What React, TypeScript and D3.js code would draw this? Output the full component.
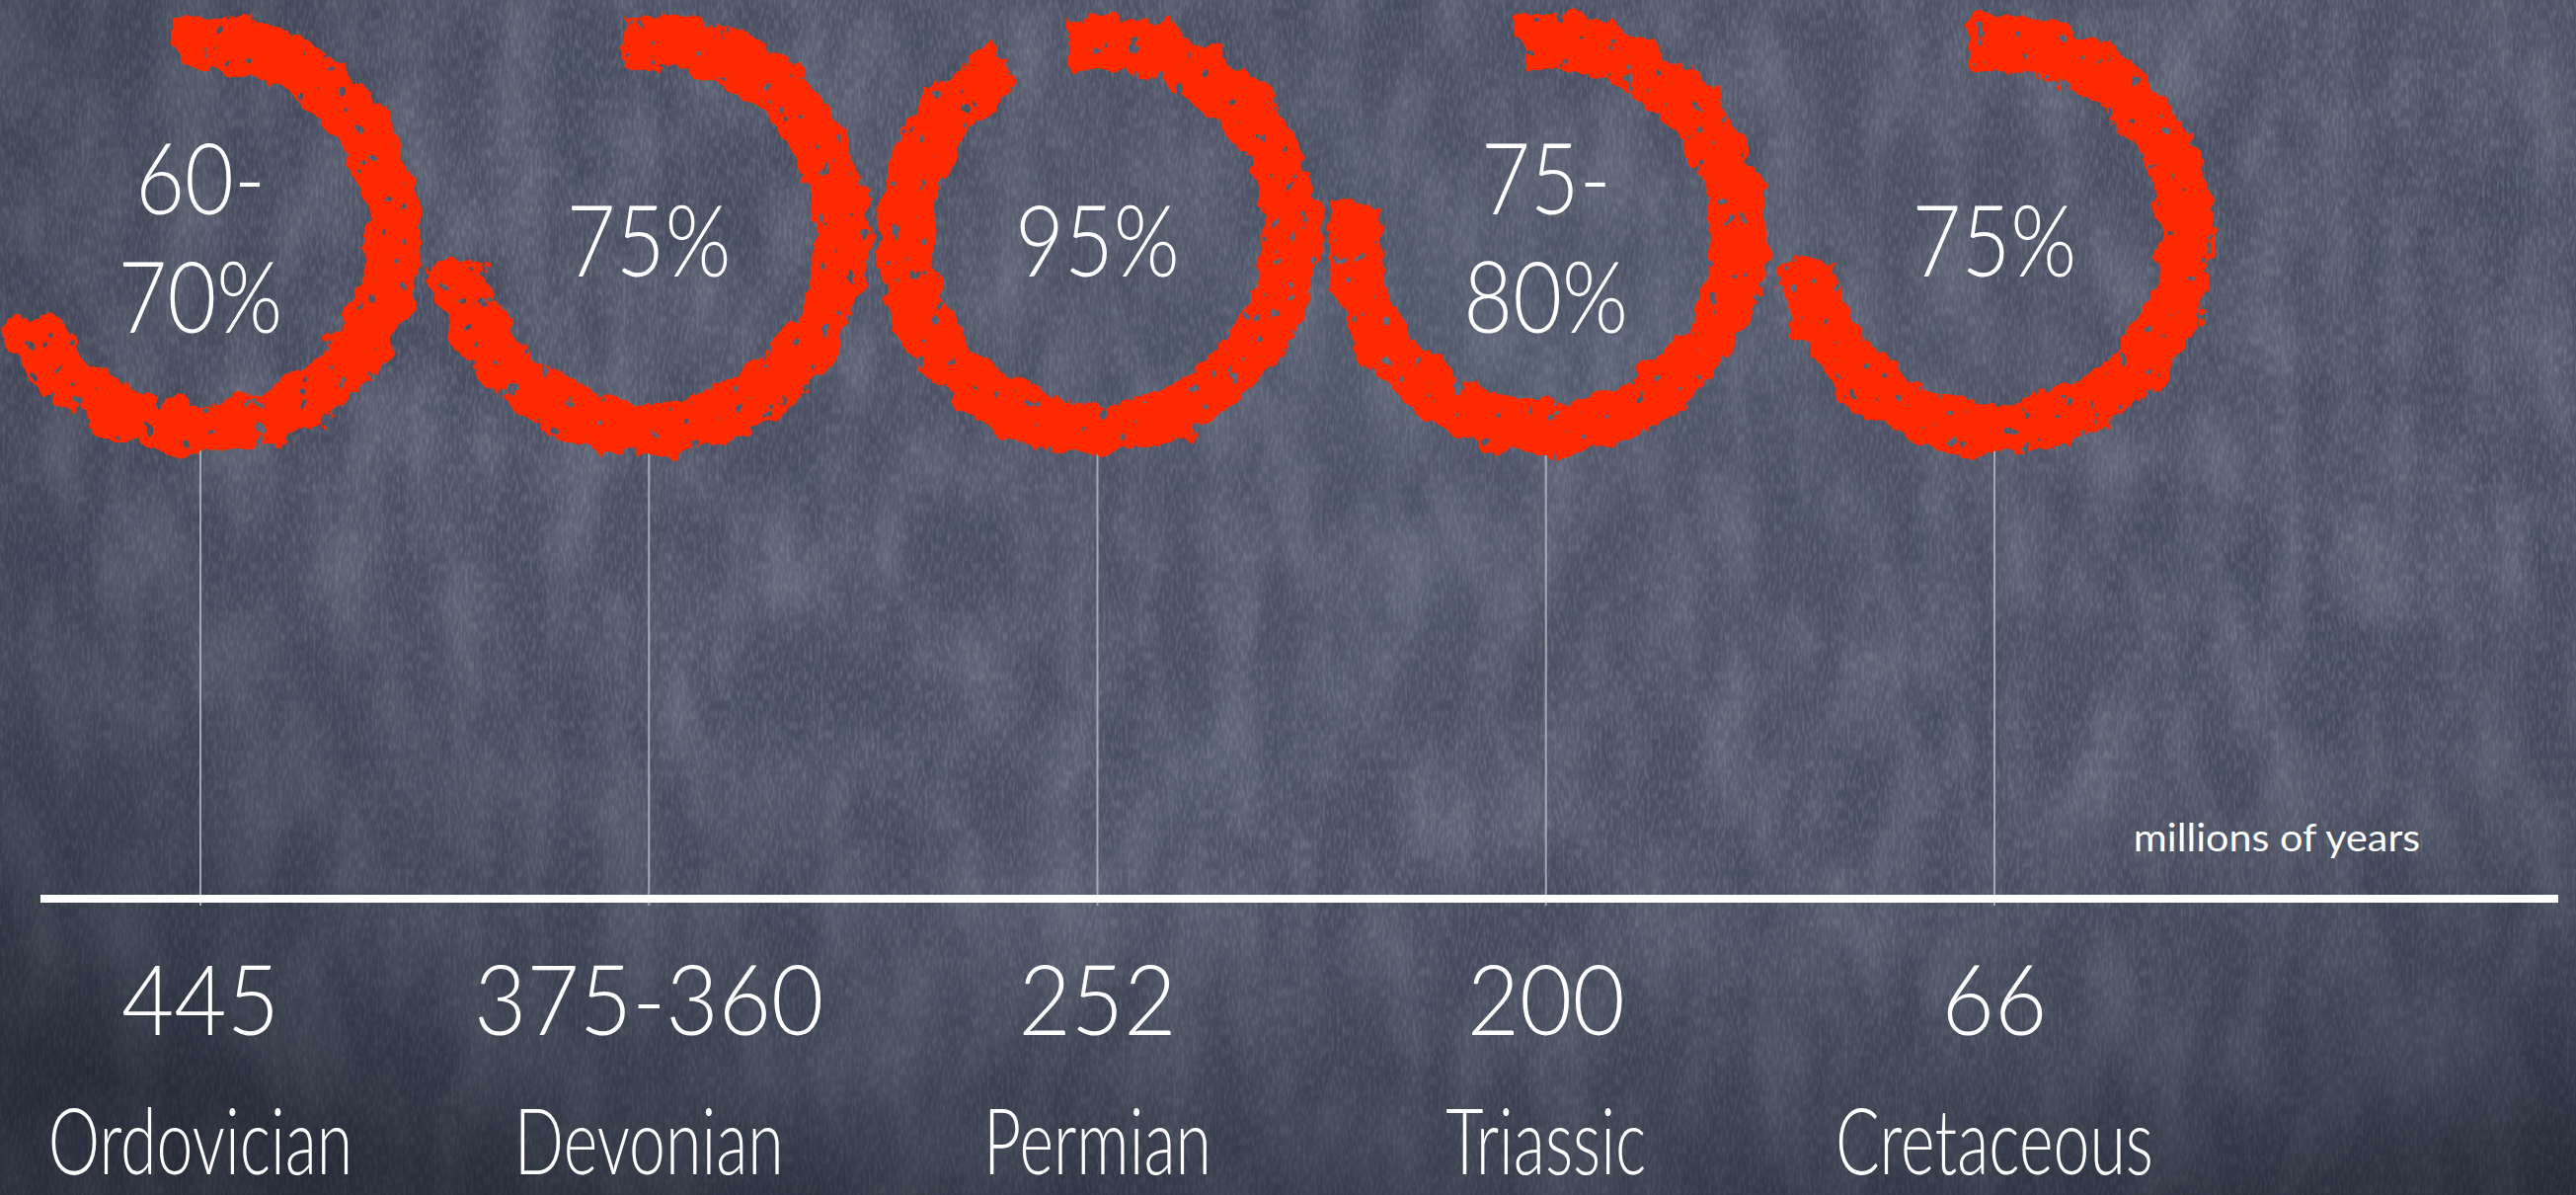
import React from "react";
import * as d3 from "d3";

// ---- data ----
const eras = ["Ordovician", "Devonian", "Permian", "Triassic", "Cretaceous"];
const datesMya = ["445", "375-360", "252", "200", "66"];
const lossLow = [60, 75, 95, 75, 75];
const lossHigh = [70, 75, 95, 80, 75];
const unitLabel = "millions of years";

const W = 2609;
const H = 1210;

export default function App() {
  const x = d3.scalePoint<string>().domain(eras).range([203, 2020]);
  const angle = d3.scaleLinear().domain([0, 100]).range([0, 2 * Math.PI * 0.97]);
  const ringY = 238;
  const rIn = 168;
  const rOut = 223;
  const axisY = 910;
  const arcGen = d3.arc<any>().innerRadius(rIn).outerRadius(rOut);
  const startA = -0.13;

  const roundFont = "Lato, 'Open Sans', 'DejaVu Sans', sans-serif";

  return (
    <svg
      width={W}
      height={H}
      viewBox={`0 0 ${W} ${H}`}
      style={{ position: "fixed", left: 0, top: 0, display: "block" }}
    >
      <defs>
        <radialGradient id="vig" cx="58%" cy="28%" r="82%">
          <stop offset="0" stopColor="#737a90" stopOpacity="0.28" />
          <stop offset="0.5" stopColor="#3a3f50" stopOpacity="0" />
          <stop offset="1" stopColor="#0c0f18" stopOpacity="0.55" />
        </radialGradient>
        <filter id="chalk" filterUnits="userSpaceOnUse" x="0" y="0" width={W} height={H}>
          <feTurbulence type="fractalNoise" baseFrequency="0.018 0.008" numOctaves="5" seed="4" />
          <feColorMatrix
            type="matrix"
            values="0 0 0 0 0.78  0 0 0 0 0.82  0 0 0 0 0.93  0.32 0 0 0 -0.11"
          />
        </filter>
        <filter id="blotch" filterUnits="userSpaceOnUse" x="0" y="0" width={W} height={H}>
          <feTurbulence type="fractalNoise" baseFrequency="0.004 0.006" numOctaves="3" seed="21" />
          <feColorMatrix
            type="matrix"
            values="0 0 0 0 0.05  0 0 0 0 0.06  0 0 0 0 0.1  -1.0 0 0 0 0.55"
          />
        </filter>
        <filter id="grain" filterUnits="userSpaceOnUse" x="0" y="0" width={W} height={H}>
          <feTurbulence type="fractalNoise" baseFrequency="0.35 0.1" numOctaves="2" seed="11" />
          <feColorMatrix
            type="matrix"
            values="0 0 0 0 0.85  0 0 0 0 0.88  0 0 0 0 0.95  0.35 0 0 0 -0.14"
          />
        </filter>
        <filter id="smear" x="-50%" y="-50%" width="200%" height="200%">
          <feGaussianBlur stdDeviation="40" />
        </filter>
        <filter id="rough" filterUnits="userSpaceOnUse" x="0" y="0" width={W} height={H}>
          <feTurbulence type="fractalNoise" baseFrequency="0.04" numOctaves="4" seed="2" result="n1" />
          <feDisplacementMap
            in="SourceGraphic"
            in2="n1"
            scale="26"
            xChannelSelector="R"
            yChannelSelector="G"
            result="d1"
          />
          <feTurbulence type="fractalNoise" baseFrequency="0.07" numOctaves="2" seed="9" result="n2" />
          <feColorMatrix
            in="n2"
            type="matrix"
            values="0 0 0 0 0  0 0 0 0 0  0 0 0 0 0  -30 0 0 0 22"
            result="holes"
          />
          <feComposite in="d1" in2="holes" operator="in" />
        </filter>
      </defs>

      {/* chalkboard background */}
      <rect x={0} y={0} width={W} height={H} fill="#4a5062" />
      <rect x={0} y={0} width={W} height={H} filter="url(#blotch)" />
      <rect x={0} y={0} width={W} height={H} filter="url(#chalk)" />
      <rect x={0} y={0} width={W} height={H} filter="url(#grain)" />
      <ellipse
        cx={1150}
        cy={850}
        rx={520}
        ry={60}
        transform="rotate(-38 1150 850)"
        fill="#aab2c8"
        opacity={0.08}
        filter="url(#smear)"
      />
      <rect x={0} y={0} width={W} height={H} fill="url(#vig)" />

      {/* connector lines */}
      {eras.map((e) => (
        <line
          key={"l" + e}
          x1={x(e)}
          x2={x(e)}
          y1={ringY + rOut - 10}
          y2={axisY + 7}
          stroke="#b4b8c0"
          strokeWidth={2}
          opacity={0.85}
        />
      ))}

      {/* axis */}
      <line x1={41} x2={2591} y1={axisY} y2={axisY} stroke="#ffffff" strokeWidth={8} />

      {/* rings */}
      <g filter="url(#rough)">
        {eras.map((e, i) => (
          <path
            key={"r" + e}
            transform={`translate(${x(e)},${ringY})`}
            d={arcGen({ startAngle: startA, endAngle: angle(lossHigh[i]) }) as string}
            fill="#ff2a00"
          />
        ))}
      </g>

      {/* percentages */}
      {eras.map((e, i) => {
        const lo = lossLow[i];
        const hi = lossHigh[i];
        const lines = lo === hi ? [`${hi}%`] : [`${lo}-`, `${hi}%`];
        const baselines = lines.length === 1 ? [ringY + 42] : [ringY - 21, ringY + 99];
        return lines.map((t, j) => (
          <text
            key={"p" + e + j}
            transform={`translate(${x(e)},${baselines[j]}) scale(0.86,1)`}
            textAnchor="middle"
            fontFamily={roundFont}
            fontWeight={300}
            fontSize={100}
            fill="#ffffff"
          >
            {t}
          </text>
        ));
      })}

      {/* dates */}
      {eras.map((e, i) => (
        <text
          key={"d" + e}
          transform={`translate(${x(e)},1048) scale(0.93,1)`}
          textAnchor="middle"
          fontFamily={roundFont}
          fontWeight={300}
          fontSize={99}
          fill="#ffffff"
        >
          {datesMya[i]}
        </text>
      ))}

      {/* era names */}
      {eras.map((e) => (
        <text
          key={"n" + e}
          transform={`translate(${x(e)},1189) scale(0.72,1)`}
          textAnchor="middle"
          fontFamily={roundFont}
          fontWeight={300}
          fontSize={92}
          fill="#ffffff"
        >
          {e}
        </text>
      ))}

      {/* unit */}
      <text
        transform={`translate(2306,862) scale(1.06,1)`}
        textAnchor="middle"
        fontFamily={roundFont}
        fontWeight={400}
        fontSize={39}
        fill="#ffffff"
      >
        {unitLabel}
      </text>
    </svg>
  );
}
